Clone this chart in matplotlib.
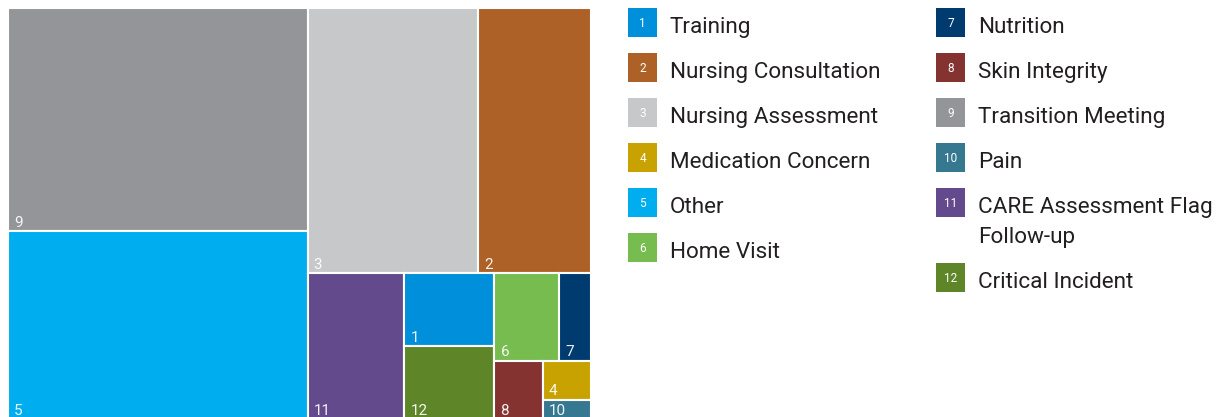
import matplotlib.pyplot as plt
from matplotlib.patches import Rectangle

numbers = [1, 2, 3, 4, 5, 6, 7, 8, 9, 10, 11, 12]
categories = ['Training', 'Nursing Consultation', 'Nursing Assessment',
              'Medication Concern', 'Other', 'Home Visit', 'Nutrition',
              'Skin Integrity', 'Transition Meeting', 'Pain',
              'CARE Assessment Flag\nFollow-up', 'Critical Incident']
counts = [7, 32, 48, 2, 60, 6, 3, 3, 71, 1, 15, 7]
colors = ['#008FDA', '#AD6127', '#C7C8CA', '#C8A300', '#00AEEF', '#76BC4E',
          '#003B6F', '#843331', '#939598', '#36788F', '#634A8C', '#5E8629']

plt.rcParams['font.family'] = ['Roboto', 'DejaVu Sans']


def squarify(values, x0, y0, x1, y1, ratio=1.3):
    # d3 style squarified layout, returns {index: (x, y, w, h)}
    order = sorted(range(len(values)), key=lambda i: -values[i])
    total = float(sum(values))
    rects = {}
    i0 = 0
    n = len(order)
    while i0 < n:
        dx, dy = x1 - x0, y1 - y0
        s = values[order[i0]]
        mn = mx = s
        i1 = i0 + 1
        alpha = max(dy / dx, dx / dy) / (total * ratio)
        beta = s * s * alpha
        best = max(mx / beta, beta / mn)
        while i1 < n:
            v = values[order[i1]]
            s2 = s + v
            mn2, mx2 = min(mn, v), max(mx, v)
            beta = s2 * s2 * alpha
            r = max(mx2 / beta, beta / mn2)
            if r > best:
                break
            s, mn, mx, best = s2, mn2, mx2, r
            i1 += 1
        row = order[i0:i1]
        if dx < dy:
            h = dy * s / total
            xx = x0
            for k in row:
                w = dx * values[k] / s
                rects[k] = (xx, y0, w, h)
                xx += w
            y0 += h
        else:
            w = dx * s / total
            yy = y0
            for k in row:
                h = dy * values[k] / s
                rects[k] = (x0, yy, w, h)
                yy += h
            x0 += w
        total -= s
        i0 = i1
    return rects


W, H = 1216, 417
fig = plt.figure(figsize=(W / 100, H / 100), dpi=100)

# treemap area (slightly cropped at the bottom like the original)
box_w, box_h = 583, 411
ax = fig.add_axes([8 / W, (H - 8 - box_h) / H, box_w / W, box_h / H])
ax.set_xlim(0, box_w)
ax.set_ylim(box_h, 0)
ax.axis('off')

rects = squarify(counts, 0, 0, box_w, box_h)
for i, (x, y, w, h) in rects.items():
    ax.add_patch(Rectangle((x, y), w, h, facecolor=colors[i],
                           edgecolor='white', linewidth=1.5))
    ax.annotate(str(numbers[i]), (x, y + h), xytext=(4.5, 3),
                textcoords='offset points', color='white', alpha=0.92,
                fontsize=11, ha='left', va='baseline')

# legend, two columns
lax = fig.add_axes([0, 0, 1, 1])
lax.set_xlim(0, W)
lax.set_ylim(H, 0)
lax.axis('off')

col_x = [628, 936]
per_col = 6
for c in range(2):
    y = 8
    for j in range(per_col):
        i = c * per_col + j
        x = col_x[c]
        lax.add_patch(Rectangle((x, y), 29, 29, facecolor=colors[i],
                                edgecolor='none'))
        lax.text(x + 14.5, y + 15, str(numbers[i]), color='white',
                 fontsize=8.5, ha='center', va='center')
        lines = categories[i].split('\n')
        for k, line in enumerate(lines):
            lax.text(x + 42, y + 25 + 30 * k, line, color='#231F20',
                     fontsize=16.2, ha='left', va='baseline')
        y += 45 + 30 * (len(lines) - 1)

fig.savefig('out.png', dpi=100)
